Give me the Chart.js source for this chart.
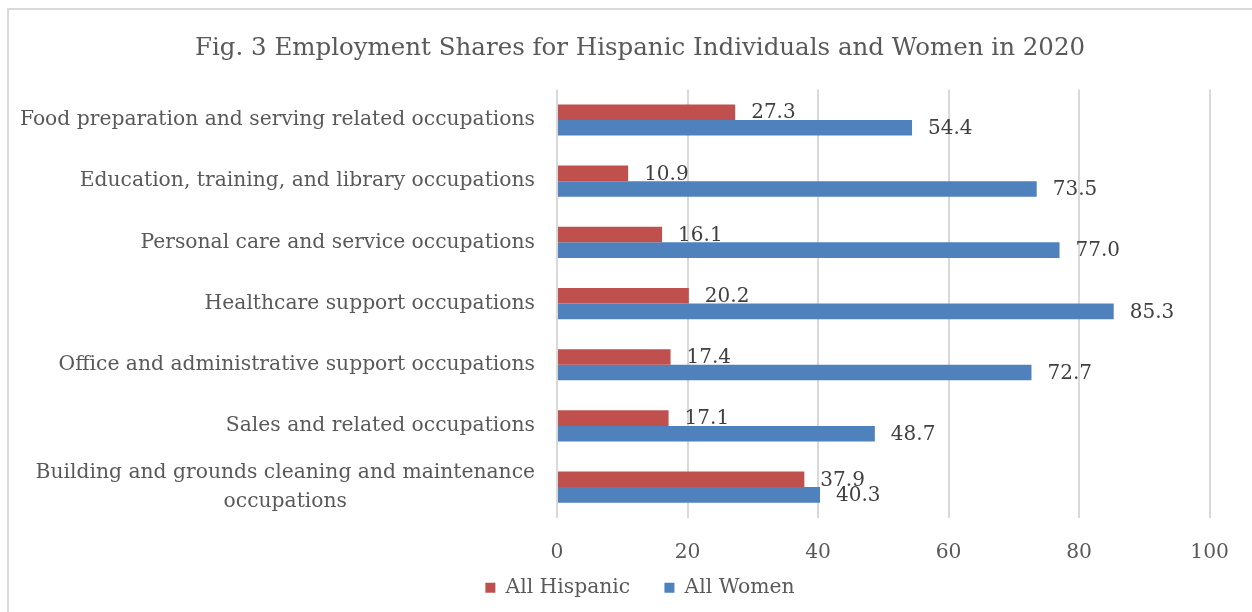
<!DOCTYPE html>
<html>
<head>
<meta charset="utf-8">
<script src="https://cdn.jsdelivr.net/npm/chart.js@4/dist/chart.umd.min.js"></script>
<style>
  html, body { margin: 0; padding: 0; background: #fff; }
  #frame {
    position: absolute; left: 7px; top: 8px; width: 1300px; height: 700px;
    border-left: 2px solid #d9d9d9; border-top: 2px solid #d9d9d9;
  }
  #wrap { position: absolute; left: 0; top: 0; width: 1252px; height: 612px; }
</style>
</head>
<body>
<div id="frame"></div>
<div id="wrap"><canvas id="chart"></canvas></div>
<script>
// occupations, top to bottom as in the figure
const occupations = [
    "Food preparation and serving related occupations",
    "Education, training, and library occupations",
    "Personal care and service occupations",
    "Healthcare support occupations",
    "Office and administrative support occupations",
    "Sales and related occupations",
    ["Building and grounds cleaning and maintenance", "occupations"]
]
const hispanicShare = [27.3, 10.9, 16.1, 20.2, 17.4, 17.1, 37.9]
const womenShare = [54.4, 73.5, 77.0, 85.3, 72.7, 48.7, 40.3]
const xTicks = [0, 20, 40, 60, 80, 100]

const FONT = "'DejaVu Serif', 'Liberation Serif', serif"
const TEXT = '#595959'
const SIZE = 20.3

// value labels just past the end of each bar
const barLabels = {
    id: 'barLabels',
    afterDatasetsDraw (chart) {
        const ctx = chart.ctx
        ctx.save()
        ctx.font = '20px ' + FONT
        ctx.fillStyle = '#404040'
        ctx.textAlign = 'left'
        ctx.textBaseline = 'middle'
        chart.data.datasets.forEach((ds, i) => {
            chart.getDatasetMeta(i).data.forEach((bar, j) => {
                ctx.fillText(ds.data[j].toFixed(1), bar.x + 16, bar.y + 1)
            })
        })
        ctx.restore()
    }
}

// category labels: lines of a wrapped label are centred on each other
const catLabels = {
    id: 'catLabels',
    afterDraw (chart) {
        const ctx = chart.ctx
        const y = chart.scales.y
        ctx.save()
        ctx.font = SIZE + 'px ' + FONT
        ctx.fillStyle = TEXT
        ctx.textAlign = 'center'
        ctx.textBaseline = 'middle'
        const right = y.right - 22
        occupations.forEach((lab, i) => {
            const lines = Array.isArray(lab) ? lab : [lab]
            const w = Math.max(...lines.map(l => ctx.measureText(l).width))
            const cy = y.getPixelForValue(i)
            const lh = 29
            lines.forEach((l, k) => {
                ctx.fillText(l, right - w / 2, cy + (k - (lines.length - 1) / 2) * lh)
            })
        })
        ctx.restore()
    }
}

new Chart(document.getElementById('chart'), {
    type: 'bar',
    data: {
        labels: occupations,
        datasets: [
            { label: 'All Hispanic', data: hispanicShare, backgroundColor: '#C0504D' },
            { label: 'All Women', data: womenShare, backgroundColor: '#4F81BD' }
        ]
    },
    options: {
        indexAxis: 'y',
        responsive: true,
        maintainAspectRatio: false,
        animation: false,
        categoryPercentage: 0.51,
        barPercentage: 1,
        layout: { padding: { top: 34, right: 36, bottom: 4, left: 64 } },
        scales: {
            x: {
                min: 0, max: 100,
                afterBuildTicks: (s) => { s.ticks = xTicks.map(v => ({ value: v })) },
                grid: { color: '#d9d9d9', lineWidth: 2, drawTicks: false },
                border: { display: false },
                ticks: { color: TEXT, font: { family: FONT, size: SIZE }, padding: 23 },
                afterFit: (s) => { s.height = 46 }
            },
            y: {
                grid: { display: false },
                border: { display: false },
                ticks: { display: false, autoSkip: false },
                afterFit: (s) => { s.width = 493 }
            }
        },
        plugins: {
            title: {
                display: true,
                text: 'Fig. 3 Employment Shares for Hispanic Individuals and Women in 2020',
                color: TEXT,
                font: { family: FONT, size: 24.5, weight: 'normal' },
                padding: { top: 0, bottom: 26 }
            },
            legend: {
                position: 'bottom',
                labels: {
                    color: TEXT, boxWidth: 10, boxHeight: 10,
                    font: { family: FONT, size: SIZE }, padding: 14,
                    // a little extra room after the first entry, as in the figure
                    generateLabels: (chart) => {
                        const items = Chart.defaults.plugins.legend.labels.generateLabels(chart)
                        items[0].text += '\u2002\u2002'
                        return items
                    }
                }
            },
            tooltip: { enabled: false }
        }
    },
    plugins: [barLabels, catLabels]
})
</script>
</body>
</html>
